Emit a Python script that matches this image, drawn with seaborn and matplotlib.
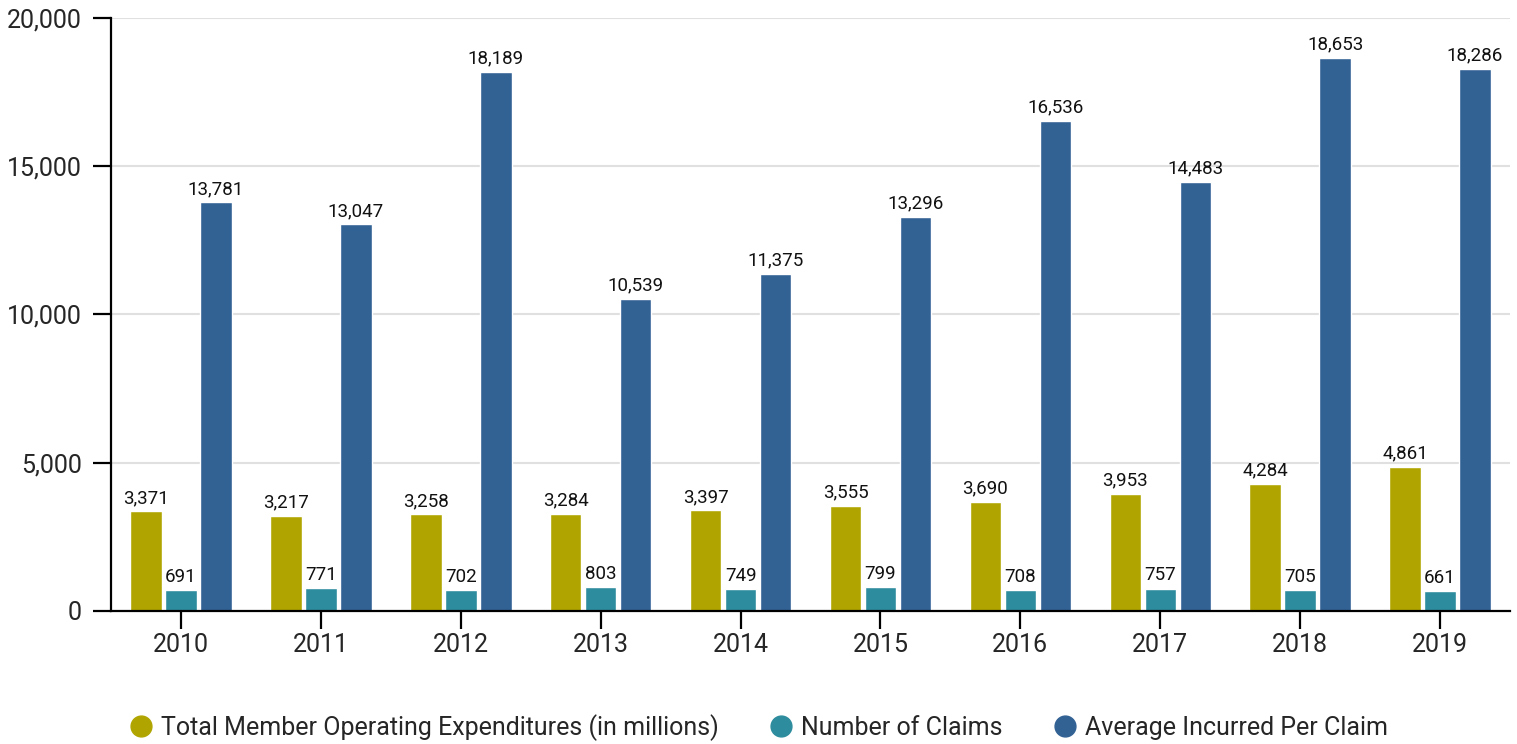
import matplotlib
matplotlib.use("Agg")
import matplotlib.pyplot as plt
from matplotlib.lines import Line2D
import seaborn as sns
import pandas as pd

years = ["2010", "2011", "2012", "2013", "2014", "2015", "2016", "2017", "2018", "2019"]
expenditures = [3371, 3217, 3258, 3284, 3397, 3555, 3690, 3953, 4284, 4861]
claims = [691, 771, 702, 803, 749, 799, 708, 757, 705, 661]
avg_incurred = [13781, 13047, 18189, 10539, 11375, 13296, 16536, 14483, 18653, 18286]
series_names = ["Total Member Operating Expenditures (in millions)",
                "Number of Claims", "Average Incurred Per Claim"]
colors = ["#B0A500", "#2D8C9D", "#326194"]
y_ticks = [0, 5000, 10000, 15000, 20000]

sns.set_theme(style="white")
plt.rcParams["font.family"] = ["Roboto", "DejaVu Sans"]

rows = []
for name, vals in zip(series_names, [expenditures, claims, avg_incurred]):
    for y, v in zip(years, vals):
        rows.append({"Year": y, "Series": name, "Value": v})
df = pd.DataFrame(rows)

fig = plt.figure(figsize=(15.17, 7.44), dpi=100)
ax = fig.add_axes([0.0732, 0.1788, 0.9222, 0.797])

sns.barplot(data=df, x="Year", y="Value", hue="Series", hue_order=series_names,
            palette=colors, width=0.75, gap=0.1, saturation=1, ax=ax,
            legend=False, errorbar=None)

for cont in ax.containers:
    ax.bar_label(cont, labels=[f"{v:,.0f}" for v in cont.datavalues],
                 padding=3, fontsize=13.5, color="#111111")

ax.set_ylim(0, 20000)
ax.set_xlim(-0.5, 9.5)
ax.set_yticks(y_ticks)
ax.set_yticklabels([f"{t:,}" for t in y_ticks])
ax.set_xlabel("")
ax.set_ylabel("")
ax.yaxis.grid(True, color="#e0e0e0", linewidth=1.5)
ax.set_axisbelow(True)
for s in ["top", "right"]:
    ax.spines[s].set_visible(False)
for s in ["left", "bottom"]:
    ax.spines[s].set_color("black")
    ax.spines[s].set_linewidth(1.6)
ax.tick_params(axis="y", direction="out", length=13, width=1.6, color="black",
               labelsize=18, pad=8, left=True)
ax.tick_params(axis="x", direction="out", length=13, width=1.6, color="black",
               labelsize=18, pad=3, bottom=True)

handles = [Line2D([0], [0], marker="o", linestyle="", markersize=15,
                  markerfacecolor=c, markeredgecolor=c) for c in colors]
fig.legend(handles, series_names, loc="center", bbox_to_anchor=(0.5, 0.022),
           ncol=3, frameon=False, fontsize=18, handletextpad=0.3,
           columnspacing=2.0, handlelength=1.0)

fig.savefig("out.png", dpi=100)
